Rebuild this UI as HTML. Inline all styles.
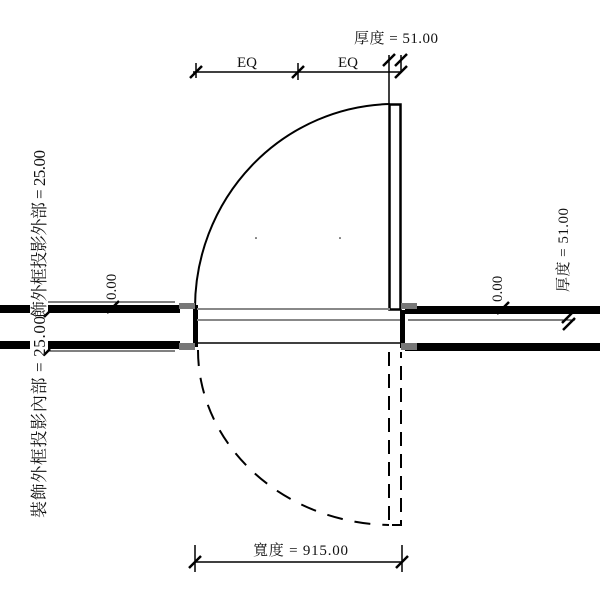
<!DOCTYPE html>
<html><head><meta charset="utf-8"><style>body{margin:0;background:#fff}svg{display:block}text{font-family:"Liberation Serif","Noto Serif CJK SC",serif;fill:#111}</style></head><body>
<svg width="600" height="600" viewBox="0 0 600 600" xmlns="http://www.w3.org/2000/svg">
<g fill="#000">
<rect x="0" y="305" width="30" height="8"/><rect x="48" y="305" width="132" height="8"/>
<rect x="0" y="341" width="30" height="8"/><rect x="48" y="341" width="132" height="8"/>
<rect x="405" y="306" width="195" height="8"/><rect x="405" y="343" width="195" height="8"/>
<rect x="193" y="305" width="5" height="42"/><rect x="400" y="310" width="5" height="38"/>
</g>
<g stroke="#000" fill="none">
<line x1="48" y1="302" x2="175" y2="302" stroke-width="1"/>
<line x1="48" y1="351" x2="175" y2="351" stroke-width="1"/>
<line x1="408" y1="320" x2="575" y2="320" stroke-width="1"/>
<rect x="389.5" y="104.5" width="11" height="205" stroke-width="2.5"/>
<path d="M195 308 A200 204 0 0 1 390 104" stroke-width="2"/>
<path d="M198 350 A195 175 0 0 0 389 525" stroke-width="2" stroke-dasharray="16,12"/>
<path d="M389 352 V525 H401 V352" stroke-width="2" stroke-dasharray="14,8"/>
<line x1="197" y1="343" x2="400" y2="343" stroke-width="1.5"/>
</g>
<g stroke="#888" fill="none" stroke-width="2">
<line x1="197" y1="309" x2="390" y2="309"/><line x1="197" y1="320" x2="400" y2="320"/>
</g>
<g fill="#777">
<rect x="179" y="303" width="16" height="6"/><rect x="179" y="343" width="16" height="7"/>
<rect x="401" y="303" width="16" height="6"/><rect x="401" y="343" width="16" height="7"/>
</g>
<g stroke="#000" stroke-width="1.5" fill="none">
<line x1="193" y1="72" x2="402" y2="72"/>
<line x1="389" y1="55" x2="389" y2="104"/><line x1="401" y1="55" x2="401" y2="72"/>
<line x1="196" y1="63" x2="196" y2="78"/><line x1="298" y1="63" x2="298" y2="80"/>
<line x1="195" y1="545" x2="195" y2="572"/><line x1="402" y1="545" x2="402" y2="572"/>
<line x1="195" y1="562" x2="402" y2="562"/>
</g>
<g stroke="#000" stroke-width="2.5">
<line x1="190" y1="78" x2="202" y2="66"/><line x1="292" y1="78" x2="304" y2="66"/>
<line x1="383" y1="66" x2="395" y2="54"/><line x1="395" y1="66" x2="407" y2="54"/><line x1="395" y1="78" x2="407" y2="66"/>
<line x1="189" y1="568" x2="201" y2="556"/><line x1="396" y1="568" x2="408" y2="556"/>
<line x1="107" y1="313" x2="119" y2="301"/><line x1="497" y1="314" x2="509" y2="302"/>
<line x1="562" y1="323" x2="574" y2="311"/><line x1="563" y1="330" x2="575" y2="318"/>
<line x1="44" y1="317" x2="50" y2="311"/><line x1="44" y1="355" x2="50" y2="349"/>
</g>
<text x="354" y="43" font-size="15" textLength="84">厚度 = 51.00</text>
<text x="237" y="67" font-size="15">EQ</text>
<text x="338" y="67" font-size="15">EQ</text>
<text x="253" y="555" font-size="15" textLength="95">寬度 = 915.00</text>
<text transform="translate(45,518) rotate(-90)" font-size="17" textLength="202">裝飾外框投影內部 = 25.00</text>
<text transform="translate(45,318) rotate(-90)" font-size="17" textLength="168">飾外框投影外部 = 25.00</text>
<text transform="translate(116,300) rotate(-90)" font-size="15">0.00</text>
<text transform="translate(502,302) rotate(-90)" font-size="15">0.00</text>
<text transform="translate(568,292) rotate(-90)" font-size="15" textLength="84">厚度 = 51.00</text>
<circle cx="256" cy="238" r="0.8" fill="#000"/><circle cx="340" cy="238" r="0.8" fill="#000"/>
</svg>
</body></html>
